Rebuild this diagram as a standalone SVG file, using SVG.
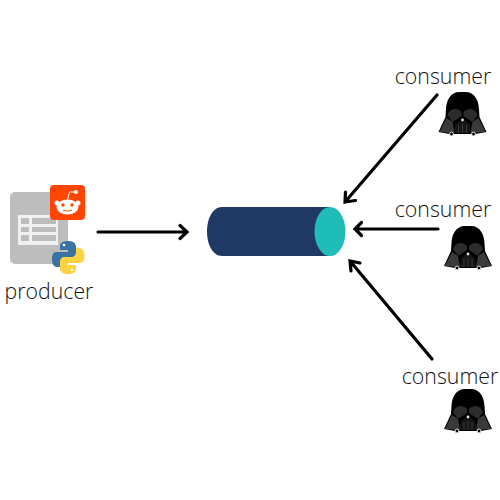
<svg xmlns="http://www.w3.org/2000/svg" width="500" height="500" viewBox="0 0 500 500">
<style>
.t{font-family:"Open Sans","Noto Sans",sans-serif;font-size:21.3px;font-weight:300;fill:#111}
.c{fill:none;stroke:#000;stroke-width:3.2;stroke-linecap:round;stroke-linejoin:miter}
</style>
<defs>
<g id="vader">
<path d="M-3 -21C-12 -21 -16 -13 -16.500 -4L-17 4L-24 19L-13 21H13L24 19L17 4L16.500 -4C16 -13 12 -21 3 -21Z" fill="#000"/>
<path d="M-23 19L-16 5L-10 9L-8 20Z M23 19L16 5L10 9L8 20Z" fill="#3a3a3a"/>
<path d="M-15 2C-13 -5 -5 -6 -1 -1L-1 3L-10 9Z M15 2C13 -5 5 -6 1 -1L1 3L10 9Z" fill="#2c2c2c"/>
<path d="M-7 11L0 6L7 11L8 20H-8Z" fill="#161616"/>
<path d="M-4 12V20M0 11V20M4 12V20" stroke="#444" stroke-width=".8" fill="none"/>
<circle cx="0" cy="7" r="1.400" fill="#ddd"/>
<circle cx="-11" cy="21" r="1.900" fill="#000" stroke="#ddd"/>
<circle cx="11" cy="21" r="1.900" fill="#000" stroke="#ddd"/>
</g>
</defs>
<g id="connectors">
<path class="c" d="M98 232H187M180 225.500L187 232L180 238.500"/>
<path class="c" d="M437 95L345 202M345.500 192L345 202L355.500 200.500"/>
<path class="c" d="M438 229H355M361.500 222.500L355 229L361.500 235.500"/>
<path class="c" d="M432 359L350 261M351 271L350 261L360 263"/>
</g>
<g id="queue">
<path d="M222 207H330V256H222C213 256 207 245 207 231.500C207 218 213 207 222 207Z" fill="#1f3864"/>
<ellipse cx="330" cy="231.500" rx="15.500" ry="24.500" fill="#20bdb8"/>
</g>
<g id="producer">
<rect x="10" y="192" width="58" height="72" rx="5" fill="#bdbdbd"/>
<path d="M50 192L68 212V192Z" fill="#9e9e9e"/>
<path d="M18 215H58V245H18Z" fill="#f1f1f1"/>
<path d="M32 218H56V224H32ZM32 227H56V232H32ZM32 235H56V241H32ZM21 227H29V232H21ZM21 235H29V241H21ZM21 218H29V224H21Z" fill="#bdbdbd"/>
<g id="reddit">
<rect x="50" y="185" width="35" height="35" rx="4" fill="#ff4500"/>
<ellipse cx="67.500" cy="207" rx="11" ry="7.500" fill="#fff"/>
<circle cx="57" cy="203" r="2.500" fill="#fff"/>
<circle cx="78" cy="203" r="2.500" fill="#fff"/>
<circle cx="76" cy="192" r="2" fill="#fff"/>
<path d="M67.500 200L69.500 192L76 192" fill="none" stroke="#fff"/>
<circle cx="63" cy="205" r="1.700" fill="#ff4500"/>
<circle cx="72" cy="205" r="1.700" fill="#ff4500"/>
<path d="M63 210Q67.500 212.500 72 210" fill="none" stroke="#ff4500"/>
</g>
<g id="python">
<path d="M68 241C61 241 60 244 60 247V250H68V252H56C53 252 52 255 52 259C52 264 54 267 57 267H60V263C60 260 62 258 65 258H72C74 258 76 256 76 254V247C76 243 73 241 68 241Z" fill="#3a72a4"/>
<path d="M68 274C75 274 76 271 76 268V265H68V263H80C83 263 84.500 260 84.500 256C84.500 251 82 248 79 248H76V252C76 255 74 257 71 257H64C62 257 60 259 60 261V268C60 272 63 274 68 274Z" fill="#fdd33f"/>
<circle cx="64" cy="245" r="1.300" fill="#fff"/>
<circle cx="72" cy="270" r="1.300" fill="#fff"/>
</g>
<text class="t" x="49" y="299" text-anchor="middle">producer</text>
</g>
<g id="consumer1">
<text class="t" x="443" y="84" text-anchor="middle">consumer</text>
<use href="#vader" x="462.500" y="113"/>
</g>
<g id="consumer2">
<text class="t" x="443" y="217" text-anchor="middle">consumer</text>
<use href="#vader" x="468" y="247"/>
</g>
<g id="consumer3">
<text class="t" x="450" y="384" text-anchor="middle">consumer</text>
<use href="#vader" x="468" y="410"/>
</g>
</svg>
